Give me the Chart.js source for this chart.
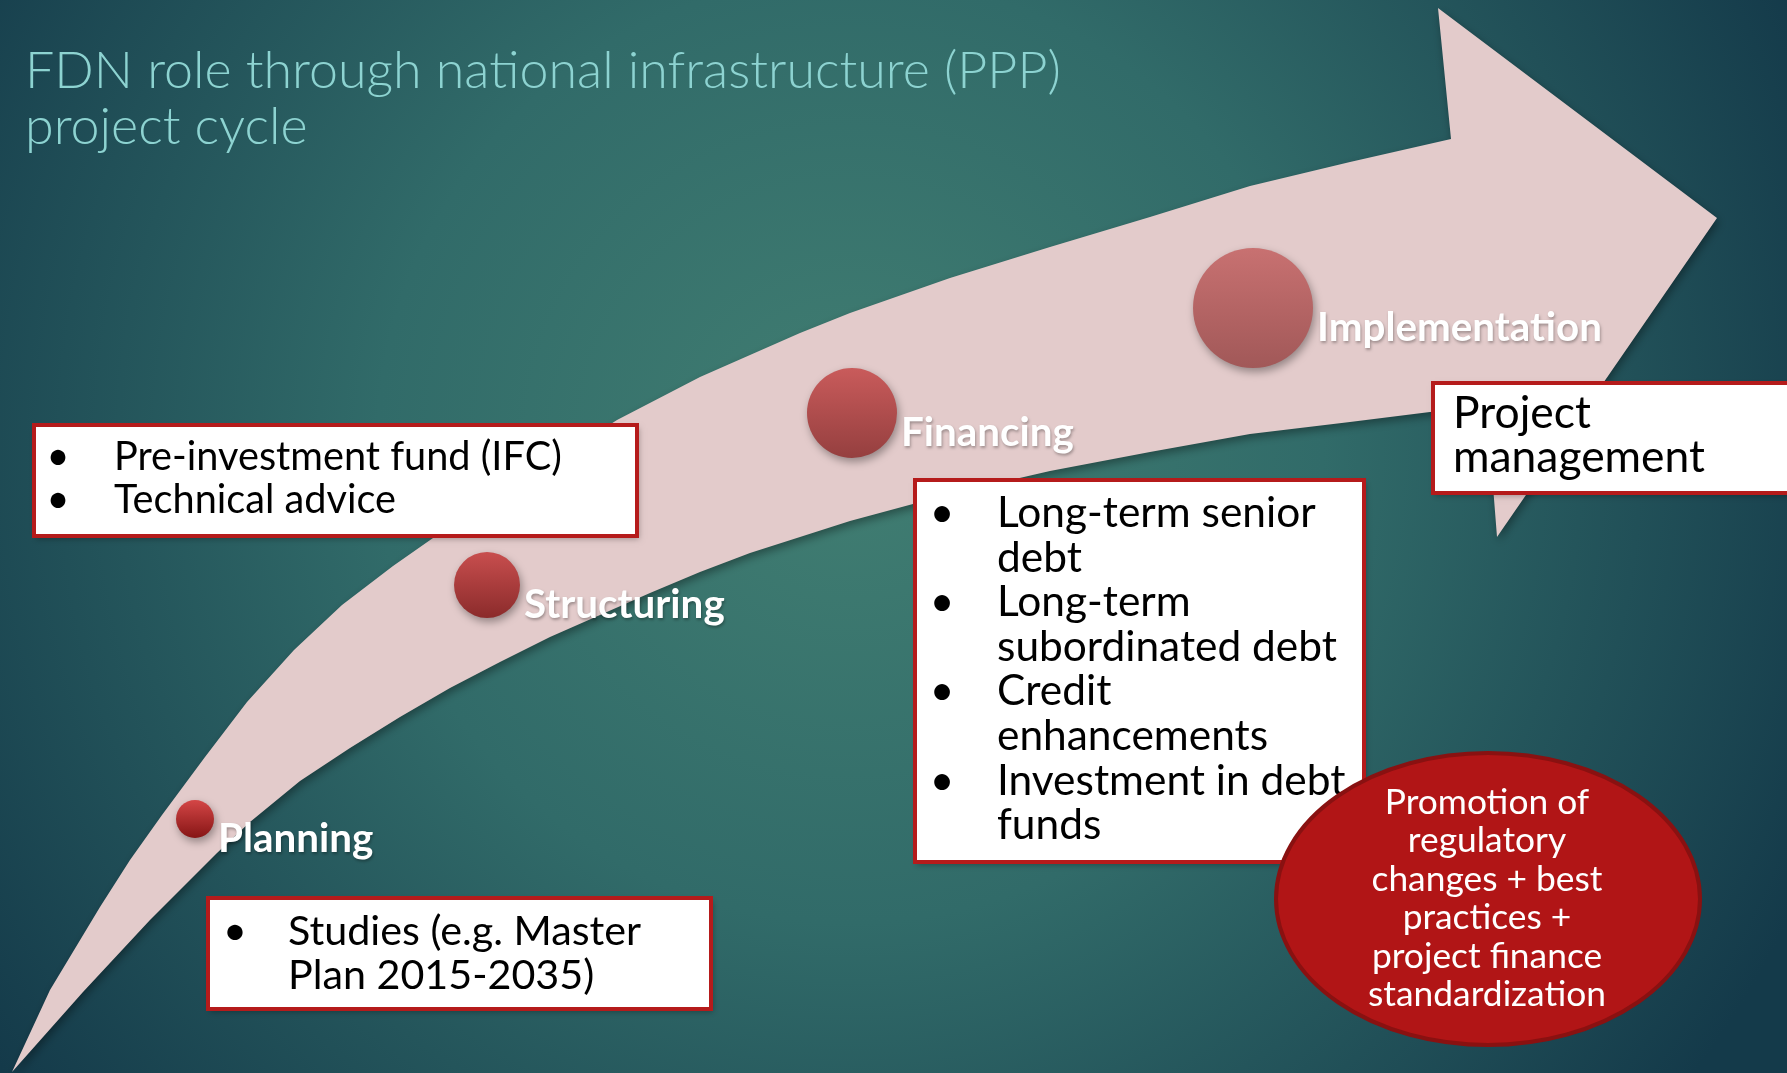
<!DOCTYPE html>
<html>
<head>
<meta charset="utf-8">
<title>FDN role through national infrastructure (PPP) project cycle</title>
<script src="https://cdn.jsdelivr.net/npm/chart.js@4.4.1/dist/chart.umd.min.js"></script>
<style>
  html, body { margin: 0; padding: 0; background: #1f5558; overflow: hidden; }
</style>
</head>
<body>
<canvas id="cycle-chart" width="1787" height="1073"></canvas>
<script>
// Stages of the project cycle, placed on the slide (y grows downwards)
const stageNames = ["Planning", "Structuring", "Financing", "Implementation"];
const stageX = [195, 487, 852, 1253];
const stageY = [819, 585, 413, 308];
const stageR = [19, 33, 45, 60];

// Outline of the curved arrow: upper edge, head, lower edge
const arrowX = [12, 50, 100, 130, 162, 205, 247, 294, 342, 393, 433, 617, 700, 800, 850, 950, 1050, 1150, 1250, 1350, 1451,
  1438, 1717, 1497, 1487,
  1430, 1350, 1250, 1150, 1050, 950, 850, 800, 750, 700, 650, 600, 550, 500, 450, 400, 350, 300, 250, 217, 150, 83, 12];
const arrowY = [1072, 990, 907, 860, 815, 757, 702, 650, 605, 566, 538, 420, 377, 333, 313, 278, 247, 217, 186, 162, 139,
  8, 218, 537, 410,
  412, 422, 434, 452, 471, 494, 521, 537, 553, 572, 593, 615, 637, 662, 688, 717, 748, 781, 822, 853, 920, 992, 1072];

// Texts
const titleLines = ["FDN role through national infrastructure (PPP)", "project cycle"];
const structuringNotes = ["Pre-investment fund (IFC)", "Technical advice"];
const planningNotes = ["Studies (e.g. Master", "Plan 2015-2035)"];
const financingNotes = ["Long-term senior", "debt", "Long-term", "subordinated debt", "Credit",
  "enhancements", "Investment in debt", "funds"];
const implementationNotes = ["Project", "management"];
const promotionLines = ["Promotion of", "regulatory", "changes + best", "practices +",
  "project finance", "standardization"];

// Styles and layout
const dotTop = ["#d44646", "#c84e4e", "#c95b5b", "#c87171"];
const dotBottom = ["#861515", "#8b2b2b", "#953f3f", "#a15858"];
const FONT = "Lato, 'Open Sans', sans-serif";

const boxes = [
  { lines: structuringNotes, bullets: [0, 1], left: 34, top: 425, right: 637, bottom: 536,
    bulletX: 58, textX: 114, base: 470, gap: 43, fit: 0, fitWidth: 448 },
  { lines: planningNotes, bullets: [0], left: 208, top: 898, right: 711, bottom: 1009,
    bulletX: 235, textX: 288, base: 945, gap: 44, fit: 0, fitWidth: 353 },
  { lines: financingNotes, bullets: [0, 2, 4, 6], left: 915, top: 480, right: 1364, bottom: 862,
    bulletX: 942, textX: 997, base: 527, gap: 44.6, fit: 3, fitWidth: 340 },
  { lines: implementationNotes, bullets: [], left: 1433, top: 383, right: 1800, bottom: 493,
    bulletX: 0, textX: 1453, base: 428, gap: 44, fit: 1, fitWidth: 252 },
];

function fitSize(ctx, text, width, weight) {
  ctx.font = `${weight} 100px ${FONT}`;
  return (100 * width) / ctx.measureText(text).width;
}

function dotFill(c) {
  const i = c.dataIndex || 0;
  const { chart } = c;
  if (c.type !== "data" || !chart.scales.y) return dotTop[i];
  const py = chart.scales.y.getPixelForValue(stageY[i]);
  if (!Number.isFinite(py)) return dotTop[i];
  const g = chart.ctx.createLinearGradient(0, py - stageR[i], 0, py + stageR[i]);
  g.addColorStop(0, dotTop[i]);
  g.addColorStop(1, dotBottom[i]);
  return g;
}

function drawBox(ctx, box) {
  const w = box.right - box.left;
  const h = box.bottom - box.top;
  ctx.save();
  ctx.shadowColor = "rgba(0, 0, 0, 0.3)";
  ctx.shadowBlur = 6;
  ctx.shadowOffsetX = 2;
  ctx.shadowOffsetY = 3;
  ctx.fillStyle = "#ffffff";
  ctx.fillRect(box.left, box.top, w, h);
  ctx.restore();
  ctx.lineWidth = 4;
  ctx.strokeStyle = "#b51b1b";
  ctx.strokeRect(box.left, box.top, w, h);

  const size = fitSize(ctx, box.lines[box.fit], box.fitWidth, 400);
  ctx.font = `400 ${size}px ${FONT}`;
  ctx.fillStyle = "#000000";
  ctx.textBaseline = "alphabetic";
  box.lines.forEach((line, i) => {
    const y = box.base + i * box.gap;
    ctx.textAlign = "left";
    ctx.fillText(line, box.textX, y);
    if (box.bullets.includes(i)) {
      ctx.textAlign = "center";
      ctx.fillText("\u2022", box.bulletX, y);
    }
  });
}

const slidePlugin = {
  id: "slide",
  beforeDraw(chart) {
    const { ctx, width, height } = chart;
    const bg = ctx.createRadialGradient(850, 450, 0, 850, 450, 1050);
    bg.addColorStop(0, "#417e72");
    bg.addColorStop(0.45, "#316b69");
    bg.addColorStop(1, "#143a4a");
    ctx.fillStyle = bg;
    ctx.fillRect(0, 0, width, height);
    // soft drop shadow under the arrow and the stage dots
    ctx.save();
    ctx.shadowColor = "rgba(0, 0, 0, 0.35)";
    ctx.shadowBlur = 8;
    ctx.shadowOffsetX = 2;
    ctx.shadowOffsetY = 4;
  },
  afterDatasetsDraw(chart) {
    const { ctx } = chart;
    const { x, y } = chart.scales;
    ctx.restore();

    // stage labels
    ctx.save();
    const labelSize = fitSize(ctx, "Implementation", 285, 700);
    ctx.font = `700 ${labelSize}px ${FONT}`;
    ctx.fillStyle = "#ffffff";
    ctx.textAlign = "left";
    ctx.textBaseline = "alphabetic";
    ctx.shadowColor = "rgba(0, 0, 0, 0.3)";
    ctx.shadowBlur = 3;
    ctx.shadowOffsetX = 1;
    ctx.shadowOffsetY = 2;
    stageNames.forEach((name, i) => {
      const px = x.getPixelForValue(stageX[i]);
      const py = y.getPixelForValue(stageY[i]);
      ctx.fillText(name, px + stageR[i] + 4, py + 33);
    });
    ctx.restore();

    boxes.forEach((box) => drawBox(ctx, box));

    // red ellipse
    ctx.save();
    ctx.beginPath();
    ctx.ellipse(1488, 899, 212, 146, 0, 0, Math.PI * 2);
    ctx.fillStyle = "#b11516";
    ctx.fill();
    ctx.lineWidth = 4;
    ctx.strokeStyle = "#891111";
    ctx.stroke();
    const pSize = fitSize(ctx, "standardization", 238, 400);
    ctx.font = `400 ${pSize}px ${FONT}`;
    ctx.fillStyle = "#ffffff";
    ctx.textAlign = "center";
    promotionLines.forEach((line, i) => ctx.fillText(line, 1487, 814 + i * 38.4));
    ctx.restore();

    // title
    ctx.save();
    const tSize = fitSize(ctx, titleLines[0], 1036, 300);
    ctx.font = `300 ${tSize}px ${FONT}`;
    ctx.fillStyle = "#8dd3d1";
    ctx.textAlign = "left";
    ctx.fillText(titleLines[0], 25, 88);
    ctx.fillText(titleLines[1], 25, 144);
    ctx.restore();
  },
};

new Chart(document.getElementById("cycle-chart"), {
  type: "line",
  data: {
    datasets: [
      {
        type: "bubble",
        label: "Stages",
        data: stageNames.map((name, i) => ({ x: stageX[i], y: stageY[i], r: stageR[i] })),
        backgroundColor: dotFill,
        borderWidth: 0,
      },
      {
        label: "Project cycle arrow",
        data: arrowX.map((px, i) => ({ x: px, y: arrowY[i] })),
        backgroundColor: "#e3cbcb",
        borderColor: "rgba(0,0,0,0)",
        borderWidth: 0,
        pointRadius: 0,
        fill: "shape",
        tension: 0,
      },
    ],
  },
  options: {
    responsive: false,
    animation: false,
    events: [],
    layout: { padding: 0, autoPadding: false },
    scales: {
      x: { type: "linear", min: 0, max: 1787, display: false },
      y: { type: "linear", min: 0, max: 1073, reverse: true, display: false },
    },
    plugins: {
      legend: { display: false },
      tooltip: { enabled: false },
    },
  },
  plugins: [slidePlugin],
});
</script>
</body>
</html>
